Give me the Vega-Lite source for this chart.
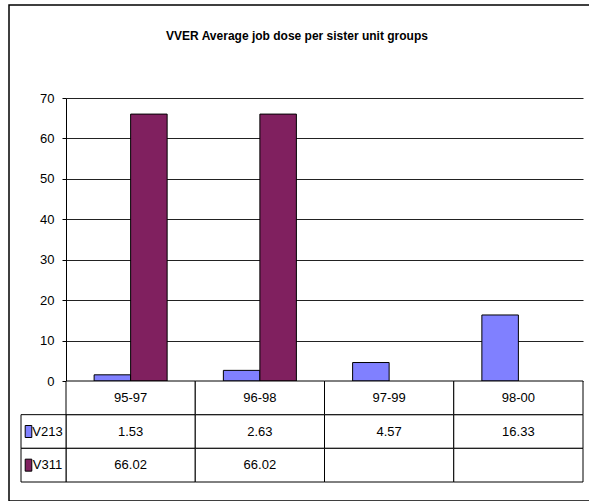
{
  "$schema": "https://vega.github.io/schema/vega-lite/v6.json",
  "width": 582,
  "height": 496,
  "autosize": "none",
  "padding": {"left": 9, "top": 5, "right": 0, "bottom": 0},
  "background": "white",
  "config": {
    "view": {"stroke": "black", "strokeWidth": 1.5},
    "font": "Liberation Sans, Arial, sans-serif",
    "text": {"font": "Liberation Sans, Arial, sans-serif", "fontSize": 13, "color": "black"}
  },
  "title": {
    "text": "VVER Average job dose per sister unit groups",
    "font": "Liberation Sans, Arial, sans-serif",
    "fontSize": 12,
    "fontWeight": "bold",
    "color": "black",
    "anchor": "middle",
    "baseline": "alphabetic",
    "dx": -3,
    "offset": -47
  },
  "datasets": {
    "dose": [
      {"period": "95-97", "series": "V213", "value": 1.53},
      {"period": "96-98", "series": "V213", "value": 2.63},
      {"period": "97-99", "series": "V213", "value": 4.57},
      {"period": "98-00", "series": "V213", "value": 16.33},
      {"period": "95-97", "series": "V311", "value": 66.02},
      {"period": "96-98", "series": "V311", "value": 66.02},
      {"period": "97-99", "series": "V311", "value": null},
      {"period": "98-00", "series": "V311", "value": null}
    ]
  },
  "resolve": {"scale": {"x": "independent", "y": "independent"}, "axis": {"x": "independent", "y": "independent"}},
  "layer": [
    {
      "data": {"name": "dose"},
      "mark": {"type": "bar", "stroke": "black", "strokeWidth": 1},
      "encoding": {
        "x": {"field": "period", "type": "nominal", "sort": ["95-97", "96-98", "97-99", "98-00"],
              "scale": {"range": [57, 574], "paddingInner": 0, "paddingOuter": 0}, "axis": null},
        "xOffset": {"field": "series", "type": "nominal", "sort": ["V213", "V311"],
                    "scale": {"paddingInner": 0, "paddingOuter": 0.77}},
        "y": {"field": "value", "type": "quantitative",
              "scale": {"domain": [0, 70], "range": [376, 93], "nice": false, "zero": true},
              "axis": {"orient": "left", "offset": -57, "values": [0, 10, 20, 30, 40, 50, 60, 70],
                       "grid": true, "gridColor": "#222222", "gridOpacity": 1, "gridWidth": 1,
                       "domainColor": "black", "domainWidth": 1, "tickColor": "black", "tickSize": 4, "tickWidth": 1,
                       "labelPadding": 8, "labelFontSize": 13, "labelColor": "black",
                       "labelFont": "Liberation Sans, Arial, sans-serif",
                       "title": null, "zindex": 0}},
        "color": {"field": "series", "type": "nominal",
                  "scale": {"domain": ["V213", "V311"], "range": ["#8080FF", "#80205F"]}, "legend": null}
      }
    },
    {
      "data": {"name": "dose"},
      "encoding": {
        "x": {"field": "period", "type": "nominal", "sort": ["95-97", "96-98", "97-99", "98-00"],
              "scale": {"range": [57, 574], "paddingInner": 0, "paddingOuter": 0}, "axis": null}
      },
      "layer": [
        {
          "mark": {"type": "rect", "fill": "white", "stroke": "black", "strokeWidth": 1},
          "encoding": {
            "y": {"field": "series", "type": "nominal",
                  "scale": {"domain": ["hdr", "V213", "V311"], "range": [376, 477], "paddingInner": 0, "paddingOuter": 0}, "axis": null}
          }
        },
        {
          "transform": [{"filter": "datum.series == 'V213'"}],
          "mark": {"type": "rect", "fill": "white", "stroke": "black", "strokeWidth": 1},
          "encoding": {"y": {"datum": "hdr", "type": "nominal"}}
        },
        {
          "transform": [{"filter": "datum.series == 'V213'"}],
          "mark": {"type": "text", "baseline": "middle", "align": "center", "fontSize": 13},
          "encoding": {"y": {"datum": "hdr", "type": "nominal"}, "text": {"field": "period"}}
        },
        {
          "transform": [{"filter": "datum.value != null"}],
          "mark": {"type": "text", "baseline": "middle", "align": "center", "fontSize": 13},
          "encoding": {"y": {"field": "series", "type": "nominal"}, "text": {"field": "value", "format": ".2f"}}
        }
      ]
    },
    {
      "data": {"name": "dose"},
      "transform": [{"filter": "datum.period == '95-97'"}],
      "encoding": {
        "x": {"datum": "lbl", "type": "nominal", "scale": {"domain": ["lbl"], "range": [12, 57], "paddingInner": 0, "paddingOuter": 0}, "axis": null},
        "y": {"field": "series", "type": "nominal",
              "scale": {"domain": ["hdr", "V213", "V311"], "range": [376, 477], "paddingInner": 0, "paddingOuter": 0}, "axis": null}
      },
      "layer": [
        {"mark": {"type": "rect", "fill": "white", "stroke": "black", "strokeWidth": 1}},
        {
          "mark": {"type": "point", "shape": "M-0.55,-1H0.55V1H-0.55Z", "size": 144, "filled": true, "opacity": 1,
                   "stroke": "black", "strokeWidth": 1, "xOffset": -15},
          "encoding": {"color": {"field": "series", "type": "nominal", "legend": null}}
        },
        {
          "mark": {"type": "text", "baseline": "middle", "align": "center", "fontSize": 13, "dx": 4},
          "encoding": {"text": {"field": "series"}}
        }
      ]
    }
  ]
}
